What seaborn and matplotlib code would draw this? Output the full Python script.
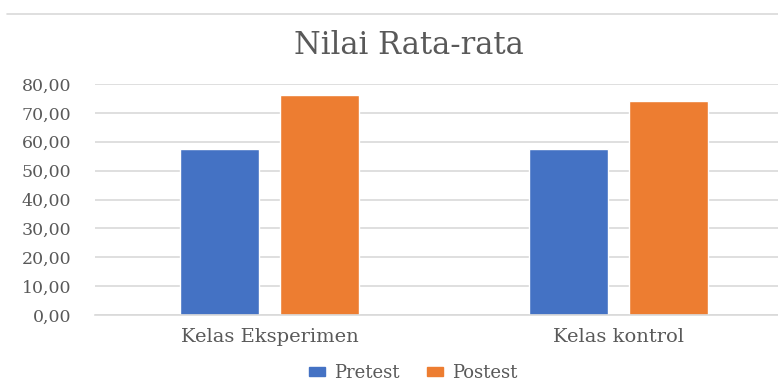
import pandas as pd
import seaborn as sns
import matplotlib.pyplot as plt
from matplotlib.lines import Line2D
from matplotlib.ticker import FuncFormatter

# data
kelas = ["Kelas Eksperimen", "Kelas kontrol"]
pretest = [57.4, 57.4]
postest = [76.1, 74.0]
y_ticks = [0, 10, 20, 30, 40, 50, 60, 70, 80]

df = pd.DataFrame({
    "kelas": kelas * 2,
    "tes": ["Pretest"] * 2 + ["Postest"] * 2,
    "nilai": pretest + postest,
})

sns.set_theme(style="white")
plt.rcParams["font.family"] = ["DejaVu Serif"]

grey = "#595959"
blue, orange = "#4472C4", "#ED7D31"
fig = plt.figure(figsize=(7.78, 3.81), dpi=100)
ax = fig.add_axes([95 / 778, 1 - 315 / 381, (793 - 95) / 778, (315 - 84) / 381])

sns.barplot(data=df, x="kelas", y="nilai", hue="tes",
            palette=[blue, orange], saturation=1, width=0.57, gap=0.21,
            ax=ax, legend=False)

ax.set_ylim(0, 80)
ax.set_yticks(y_ticks)
ax.yaxis.set_major_formatter(FuncFormatter(lambda v, p: f"{v:.2f}".replace(".", ",")))
ax.grid(axis="y", color="#D9D9D9", linewidth=1.2)
ax.set_axisbelow(True)
for s in ["top", "right", "left"]:
    ax.spines[s].set_visible(False)
ax.spines["bottom"].set_color("#D9D9D9")
ax.spines["bottom"].set_linewidth(1.2)
ax.tick_params(axis="x", length=0, labelsize=14, colors=grey, pad=9)
ax.tick_params(axis="y", length=0, labelsize=12.5, colors=grey, pad=17)
ax.set_xlabel("")
ax.set_ylabel("")

fig.text(0.526, 0.88, "Nilai Rata-rata", ha="center", va="center",
         fontsize=22, color=grey)

# top border of the chart frame
fig.add_artist(Line2D([7 / 778, 1], [1 - 14 / 381, 1 - 14 / 381],
                      color="#D9D9D9", linewidth=1.2))

handles = [plt.Rectangle((0, 0), 1, 1, color=c) for c in [blue, orange]]
fig.legend(handles, ["Pretest", "Postest"], loc="center",
           bbox_to_anchor=(413 / 778, 1 - 373 / 381), ncol=2, frameon=False,
           fontsize=13, labelcolor=grey, handlelength=0.9, handleheight=0.45,
           handletextpad=0.5, columnspacing=1.5)

fig.savefig("out.png", dpi=100)
